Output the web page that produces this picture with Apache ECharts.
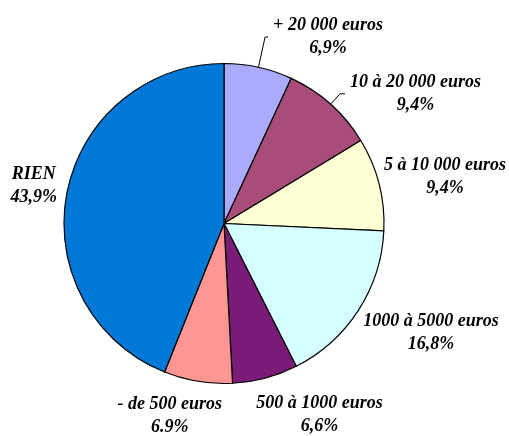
<!DOCTYPE html>
<html>
<head>
<meta charset="utf-8">
<script src="https://cdn.jsdelivr.net/npm/echarts@6/dist/echarts.min.js"></script>
<style>
  html, body { margin: 0; padding: 0; background: #fff; }
  #chart { width: 509px; height: 436px; }
</style>
</head>
<body>
<div id="chart"></div>
<script>
// tranches, dans l'ordre horaire depuis midi
var categories = ['+ 20 000 euros', '10 à 20 000 euros', '5 à 10 000 euros', '1000 à 5000 euros', '500 à 1000 euros', '- de 500 euros', 'RIEN'];
var values = [6.9, 9.4, 9.4, 16.8, 6.6, 6.9, 43.9];
var pctLabels = ['6,9%', '9,4%', '9,4%', '16,8%', '6,6%', '6.9%', '43,9%'];
var colors = ['#AAAAFF', '#A84C7A', '#FFFFD6', '#D5FFFF', '#7B1B78', '#FF9691', '#0078D7'];

// réglages des étiquettes (traits et décalages)
var lineShow = [true, true, false, false, false, false, false];
var lineLen = [31, 14, 0, 0, 0, 0, 0];
var lineLen2 = [3, 5, 0, 0, 0, 0, 0];
var labelShift = [[0, 0], [0, 0], [0, -7], [0, 22], [-14, 37], [29, 34], [-5, -7]];

var data = [];
for (var i = 0; i < categories.length; i++) {
    data.push({
        name: categories[i],
        value: values[i],
        itemStyle: { color: colors[i] },
        labelLine: { show: lineShow[i], length: lineLen[i], length2: lineLen2[i] }
    });
}

var chart = echarts.init(document.getElementById('chart'), null, { renderer: 'canvas' });
chart.setOption({
    animation: false,
    backgroundColor: '#fff',
    series: [{
        type: 'pie',
        center: [224, 223.5],
        radius: 160,
        startAngle: 90,
        clockwise: true,
        avoidLabelOverlap: false,
        silent: true,
        data: data,
        itemStyle: { borderColor: '#000', borderWidth: 1.2 },
        label: {
            position: 'outside',
            distance: 4,
            formatter: function (p) {
                return '{t|' + p.name + '}\n{t|' + pctLabels[p.dataIndex] + '}';
            },
            rich: {
                t: {
                    align: 'center',
                    fontFamily: 'Liberation Serif',
                    fontStyle: 'italic',
                    fontWeight: 'bold',
                    fontSize: 18,
                    lineHeight: 23,
                    color: '#000'
                }
            }
        },
        labelLine: {
            lineStyle: { color: '#000', width: 1 }
        },
        labelLayout: function (p) {
            var s = labelShift[p.dataIndex];
            if (!s[0] && !s[1]) return {};
            return { dx: s[0], dy: s[1] };
        }
    }]
});
</script>
</body>
</html>
